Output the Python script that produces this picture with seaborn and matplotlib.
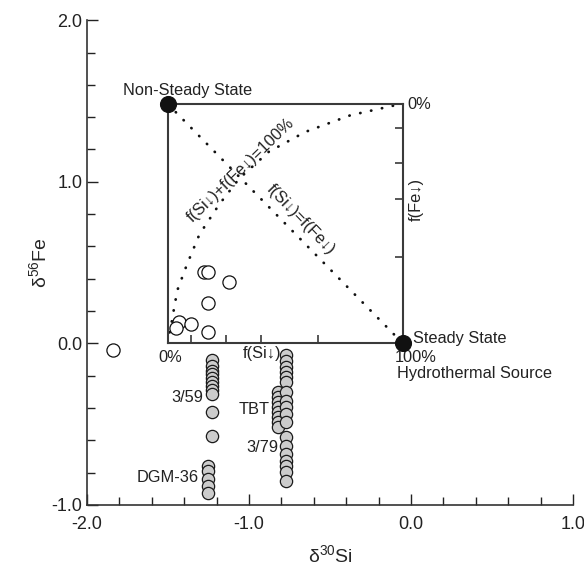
import numpy as np
import pandas as pd
import matplotlib
matplotlib.use('Agg')
import matplotlib.pyplot as plt
import seaborn as sns

# open circles (inside the mixing box + one outlier)
open_si = [-1.278, -1.253, -1.123, -1.253, -1.432, -1.451, -1.358, -1.253, -1.84]
open_fe = [0.444, 0.444, 0.383, 0.253, 0.130, 0.093, 0.117, 0.068, -0.04]

# grey filled circles: sample columns
col_3_59_fe = [-0.105, -0.142, -0.173, -0.191, -0.216, -0.241, -0.265, -0.290, -0.315, -0.426, -0.574]
col_3_59_si = -1.228
dgm36_fe = [-0.759, -0.790, -0.840, -0.883, -0.926]
dgm36_si = -1.25
col_3_79_fe = [-0.074, -0.111, -0.148, -0.179, -0.210, -0.241, -0.302, -0.358, -0.395, -0.438,
               -0.488, -0.580, -0.636, -0.685, -0.728, -0.759, -0.796, -0.852]
col_3_79_si = -0.77
tbt_fe = [-0.302, -0.333, -0.364, -0.395, -0.426, -0.457, -0.488, -0.519]
tbt_si = -0.82

# end members
end_si = [-1.5, -0.05]
end_fe = [1.48, 0.0]

# box for the f(Si) / f(Fe) diagram, in data units
box_x0, box_x1 = -1.5, -0.05
box_y0, box_y1 = 0.0, 1.48
box_ticks = [0.0, 0.1, 0.245, 0.395, 0.64, 1.0]

curve_u = [0.0, 0.004, 0.017, 0.029, 0.042, 0.080, 0.134, 0.218, 0.303, 0.429, 0.584, 0.777, 0.987, 1.0]
curve_v = [0.0, 0.033, 0.095, 0.166, 0.228, 0.328, 0.456, 0.581, 0.689, 0.801, 0.884, 0.954, 1.0, 1.0]

sns.set_style("ticks")
plt.rcParams['font.family'] = ['Liberation Sans', 'DejaVu Sans']
plt.rcParams['mathtext.fontset'] = 'custom'
plt.rcParams['mathtext.rm'] = 'Liberation Sans'
plt.rcParams['mathtext.it'] = 'Liberation Sans'

fig = plt.figure(figsize=(5.84, 5.71), dpi=100)
ax = fig.add_axes([0.149, 0.1156, 0.832, 0.849])

grey = pd.DataFrame({
    'si': [col_3_59_si] * len(col_3_59_fe) + [dgm36_si] * len(dgm36_fe)
          + [tbt_si] * len(tbt_fe) + [col_3_79_si] * len(col_3_79_fe),
    'fe': col_3_59_fe + dgm36_fe + tbt_fe + col_3_79_fe,
})
sns.scatterplot(data=grey, x='si', y='fe', ax=ax, s=78, color='#cccccc',
                edgecolor='#1a1a1a', linewidth=0.9, zorder=3)
sns.scatterplot(x=open_si, y=open_fe, ax=ax, s=90, color='white',
                edgecolor='#111111', linewidth=0.9, zorder=3)

ax.set_xlim(-2.0, 1.0)
ax.set_ylim(-1.0, 2.0)
ax.set_xticks([-2.0, -1.0, 0.0, 1.0])
ax.set_yticks([-1.0, 0.0, 1.0, 2.0])
ax.set_xticklabels(['-2.0', '-1.0', '0.0', '1.0'])
ax.set_yticklabels(['-1.0', '0.0', '1.0', '2.0'])
ax.set_xticks(np.arange(-2.0, 1.01, 0.2), minor=True)
ax.set_yticks(np.arange(-1.0, 2.01, 0.2), minor=True)
ax.tick_params(which='major', direction='in', length=8, width=1, labelsize=13, colors='#222222')
ax.tick_params(which='minor', direction='in', length=6, width=1, colors='#222222')
ax.tick_params(axis='x', pad=8)
for side in ['top', 'right']:
    ax.spines[side].set_visible(False)
for side in ['left', 'bottom']:
    ax.spines[side].set_color('#333333')
    ax.spines[side].set_linewidth(1.2)
ax.set_xlabel('δ$^{30}$Si', fontsize=14, labelpad=8)
ax.set_ylabel('δ$^{56}$Fe', fontsize=14, labelpad=1)

# inner mixing box as an inset axes placed in data coordinates
ins = ax.inset_axes([box_x0, box_y0, box_x1 - box_x0, box_y1 - box_y0], transform=ax.transData)
ins.patch.set_alpha(0)
ins.set_xlim(0, 1)
ins.set_ylim(0, 1)
ins.set_xticks(box_ticks)
ins.set_yticks([1 - t for t in box_ticks])
ins.tick_params(bottom=True, left=False, right=True, top=False, labelbottom=False,
                labelleft=False, direction='in', length=6, width=1.2, colors='#3a3a3a')
for sp in ins.spines.values():
    sp.set_color('#3a3a3a')
    sp.set_linewidth(1.5)
dot = (0, (0.1, 3.9))
ins.plot([0, 1], [1, 0], color='#111111', lw=2.0, ls=dot, dash_capstyle='round')
ins.plot(curve_u, curve_v, color='#111111', lw=2.0, ls=dot, dash_capstyle='round')

sns.scatterplot(x=end_si, y=end_fe, ax=ax, s=130, color='#111111', edgecolor='#111111',
                zorder=5, clip_on=False)
# draw end members above the inset frame
for coll in ax.collections[-1:]:
    coll.set_zorder(10)

fs = 11.8
tc = '#222222'
ax.text(-0.98, 1.568, 'Non-Steady State', ha='right', va='center', fontsize=fs, color=tc)
ax.text(-0.02, 1.48, '0%', ha='left', va='center', fontsize=fs, color=tc)
ax.text(0.031, 0.89, 'f(Fe↓)', ha='center', va='center', rotation=90, fontsize=fs, color=tc)
ax.text(0.012, 0.031, 'Steady State', ha='left', va='center', fontsize=fs, color=tc)
ax.text(-0.10, -0.086, '100%', ha='left', va='center', fontsize=fs, color=tc)
ax.text(-0.086, -0.185, 'Hydrothermal Source', ha='left', va='center', fontsize=fs, color=tc)
ax.text(-1.488, -0.086, '0%', ha='center', va='center', fontsize=fs, color=tc)
ax.text(-0.92, -0.062, 'f(Si↓)', ha='center', va='center', fontsize=fs, color=tc)
ax.text(-1.05, 1.07, 'f(Si↓)+f(Fe↓)=100%', ha='center', va='center', rotation=44,
        fontsize=fs, color=tc)
ax.text(-0.68, 0.765, 'f(Si↓)=f(Fe↓)', ha='center', va='center', rotation=-46,
        fontsize=fs, color=tc)
ax.text(-1.284, -0.333, '3/59', ha='right', va='center', fontsize=fs, color=tc)
ax.text(-0.87, -0.407, 'TBT', ha='right', va='center', fontsize=fs, color=tc)
ax.text(-0.821, -0.642, '3/79', ha='right', va='center', fontsize=fs, color=tc)
ax.text(-1.309, -0.827, 'DGM-36', ha='right', va='center', fontsize=fs, color=tc)

fig.savefig('out.png', dpi=100)
